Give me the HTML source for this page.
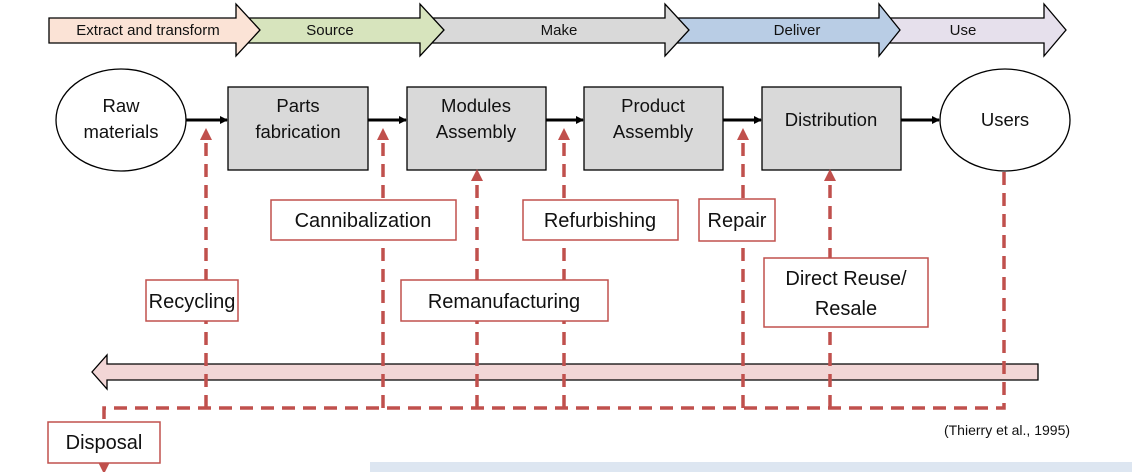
<!DOCTYPE html>
<html><head><meta charset="utf-8"><style>
body{margin:0;background:#fff}
svg{display:block}
text{font-family:"Liberation Sans",sans-serif}
</style></head><body>
<svg width="1132" height="472" viewBox="0 0 1132 472" xmlns="http://www.w3.org/2000/svg">
<defs>
<marker id="bk" markerWidth="8" markerHeight="8" refX="7" refY="4" orient="auto" markerUnits="userSpaceOnUse"><path d="M0,0 L8,4 L0,8z" fill="#000"/></marker>
<marker id="rd" markerWidth="12" markerHeight="12" refX="6" refY="6" orient="auto" markerUnits="userSpaceOnUse"><path d="M0,0 L12,6 L0,12z" fill="#c0504d"/></marker>
</defs>
<g stroke="#000" stroke-width="1.3">
<path d="M1020,18 L1044,18 L1044,4 L1066,30 L1044,56 L1044,43 L880,43 L880,18z" fill="#e6e0ec"/>
<path d="M666,18 L879,18 L879,4 L900,30 L879,56 L879,43 L666,43z" fill="#b9cde5"/>
<path d="M420,18 L665,18 L665,4 L689,30 L665,56 L665,43 L420,43z" fill="#d9d9d9"/>
<path d="M236,18 L420,18 L420,4 L444,30 L420,56 L420,43 L236,43z" fill="#d7e4bd"/>
<path d="M49,18 L236,18 L236,4 L260,30 L236,56 L236,43 L49,43z" fill="#fbe3d6"/>
</g>
<g font-size="15" text-anchor="middle" fill="#111">
<text x="148" y="35">Extract and transform</text>
<text x="330" y="35">Source</text>
<text x="559" y="35">Make</text>
<text x="797" y="35">Deliver</text>
<text x="963" y="35">Use</text>
</g>
<ellipse cx="121" cy="120" rx="65" ry="51" fill="#fff" stroke="#000" stroke-width="1.3"/>
<ellipse cx="1005" cy="120" rx="65" ry="51" fill="#fff" stroke="#000" stroke-width="1.3"/>
<g fill="#d9d9d9" stroke="#000" stroke-width="1.3">
<rect x="228" y="87" width="140" height="83"/>
<rect x="407" y="87" width="139" height="83"/>
<rect x="584" y="87" width="139" height="83"/>
<rect x="762" y="87" width="139" height="83"/>
</g>
<g stroke="#000" stroke-width="3" marker-end="url(#bk)">
<line x1="186" y1="120" x2="227" y2="120"/>
<line x1="368" y1="120" x2="406" y2="120"/>
<line x1="546" y1="120" x2="583" y2="120"/>
<line x1="723" y1="120" x2="761" y2="120"/>
<line x1="901" y1="120" x2="939" y2="120"/>
</g>
<g font-size="18.5" text-anchor="middle" fill="#111">
<text x="121" y="112">Raw</text><text x="121" y="138">materials</text>
<text x="298" y="112">Parts</text><text x="298" y="138">fabrication</text>
<text x="476" y="112">Modules</text><text x="476" y="138">Assembly</text>
<text x="653" y="112">Product</text><text x="653" y="138">Assembly</text>
<text x="831" y="126">Distribution</text>
<text x="1005" y="126">Users</text>
</g>
<path d="M1038,364 L107,364 L107,355 L92,372 L107,389 L107,380 L1038,380z" fill="#f2d6d6" stroke="#000" stroke-width="1.3"/>
<g stroke="#c0504d" stroke-width="3.5" fill="none" stroke-dasharray="13,8">
<path d="M1004,172 L1004,408 L104,408 L104,422"/>
<line x1="206" y1="408" x2="206" y2="134" marker-end="url(#rd)"/>
<line x1="383" y1="408" x2="383" y2="134" marker-end="url(#rd)"/>
<line x1="564" y1="408" x2="564" y2="134" marker-end="url(#rd)"/>
<line x1="743" y1="408" x2="743" y2="134" marker-end="url(#rd)"/>
<line x1="477" y1="408" x2="477" y2="175" marker-end="url(#rd)"/>
<line x1="830" y1="408" x2="830" y2="175" marker-end="url(#rd)"/>
</g>
<line x1="104" y1="463" x2="104" y2="468" stroke="#c0504d" stroke-width="3.5" marker-end="url(#rd)"/>
<g fill="#fff" stroke="#c0504d" stroke-width="1.5">
<rect x="271" y="200" width="185" height="40"/>
<rect x="523" y="200" width="155" height="40"/>
<rect x="699" y="199" width="76" height="42"/>
<rect x="146" y="280" width="92" height="41"/>
<rect x="401" y="280" width="207" height="41"/>
<rect x="764" y="258" width="164" height="69"/>
<rect x="48" y="422" width="112" height="41"/>
</g>
<g font-size="20" text-anchor="middle" fill="#111">
<text x="363" y="227">Cannibalization</text>
<text x="600" y="227">Refurbishing</text>
<text x="737" y="227">Repair</text>
<text x="192" y="308">Recycling</text>
<text x="504" y="308">Remanufacturing</text>
<text x="846" y="285">Direct Reuse/</text>
<text x="846" y="315">Resale</text>
<text x="104" y="449">Disposal</text>
</g>
<text x="1007" y="435" font-size="14" text-anchor="middle" fill="#111">(Thierry et al., 1995)</text>
<rect x="370" y="462" width="762" height="10" fill="#dde6f1"/>
</svg>
</body></html>
